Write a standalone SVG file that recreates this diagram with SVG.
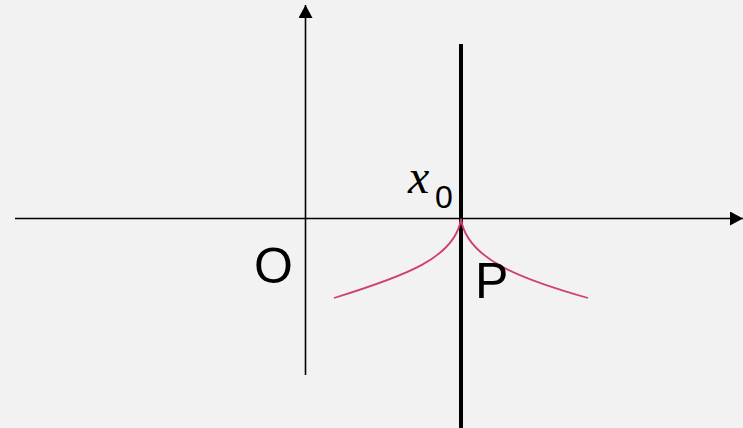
<svg xmlns="http://www.w3.org/2000/svg" width="743" height="428" viewBox="0 0 743 428">
<style>
.ax{stroke:#000;stroke-width:1.6;fill:none}
.lbl{font-family:"Liberation Sans",Arial,sans-serif;fill:#000}
</style>
<defs>
<marker id="ah" markerUnits="userSpaceOnUse" markerWidth="16" markerHeight="14" refX="13" refY="7" orient="auto">
<path d="M0,0 L13,7 L0,14 Z" fill="#000"/>
</marker>
</defs>
<rect width="743" height="428" fill="#f2f2f2"/>
<g id="connectors">
<line class="ax" x1="15" y1="218.5" x2="743" y2="218.5" marker-end="url(#ah)"/>
<line class="ax" x1="305.5" y1="375" x2="305.5" y2="5" marker-end="url(#ah)"/>
<line x1="461" y1="44" x2="461" y2="428" stroke="#000" stroke-width="4"/>
<path d="M334,298 C405,276 455,258 461,219 C467,258 517,278 588,298" fill="none" stroke="#d0406a" stroke-width="1.8"/>
</g>
<g id="label-O"><text class="lbl" x="254" y="283" font-size="50">O</text></g>
<g id="label-P"><text class="lbl" x="475" y="298" font-size="50">P</text></g>
<g id="label-x0">
<text x="408" y="193" font-family="'Liberation Serif','DejaVu Serif',serif" font-style="italic" font-size="48" fill="#000">x</text>
<text class="lbl" x="435" y="208" font-size="32">0</text>
</g>
</svg>
